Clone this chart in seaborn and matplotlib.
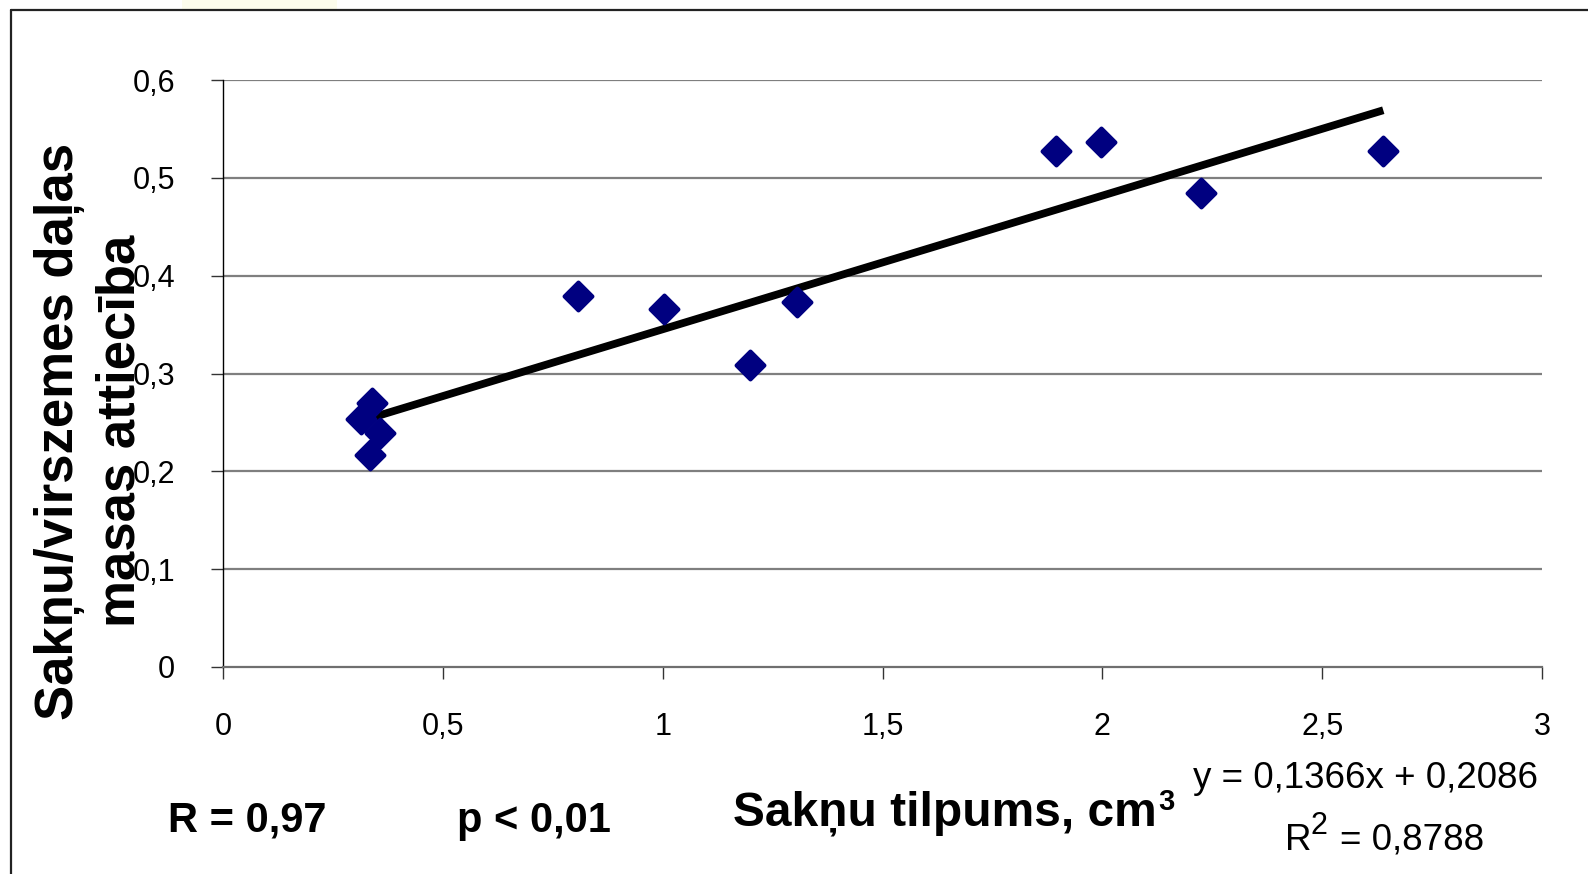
import matplotlib
matplotlib.use("Agg")
import matplotlib.pyplot as plt
import seaborn as sns
import pandas as pd
import numpy as np
from matplotlib.lines import Line2D
from matplotlib.patches import Rectangle

# ---- data ----
root_volume = [0.313, 0.340, 0.356, 0.334, 0.808, 1.004, 1.199, 1.305, 1.894, 1.998, 2.224, 2.639]
ratio       = [0.253, 0.270, 0.239, 0.217, 0.379, 0.366, 0.309, 0.373, 0.527, 0.537, 0.484, 0.527]
trend_slope = 0.1366
trend_intercept = 0.2086
r_squared = "0,8788"
x_ticks = [0, 0.5, 1, 1.5, 2, 2.5, 3]
x_tick_labels = ["0", "0,5", "1", "1,5", "2", "2,5", "3"]
y_ticks = [0, 0.1, 0.2, 0.3, 0.4, 0.5, 0.6]
y_tick_labels = ["0", "0,1", "0,2", "0,3", "0,4", "0,5", "0,6"]

sns.set_theme(style="white")
plt.rcParams['font.family'] = ['Liberation Sans', 'DejaVu Sans']
plt.rcParams['text.color'] = 'black'
plt.rcParams['axes.labelcolor'] = 'black'
plt.rcParams['xtick.color'] = 'black'
plt.rcParams['ytick.color'] = 'black'

W, H = 1588, 874
fig = plt.figure(figsize=(W / 100, H / 100), dpi=100)
fig.patch.set_facecolor("white")

def fx(px):
    return px / W

def fy(py):
    return 1 - py / H

# faint background watermark strip at the top
fig.add_artist(Rectangle((fx(182), fy(10)), fx(337) - fx(182), fy(0) - fy(10),
                         transform=fig.transFigure, color="#fcfcec", linewidth=0, zorder=0))

ax = fig.add_axes([fx(223), fy(667), fx(1542) - fx(223), fy(80) - fy(667)])
ax.set_facecolor("white")

df = pd.DataFrame({"x": root_volume, "y": ratio})

# trend line
tx = np.array([min(root_volume), max(root_volume)])
trend = pd.DataFrame({"x": tx, "y": trend_slope * tx + trend_intercept})
sns.lineplot(data=trend, x="x", y="y", ax=ax, color="black", linewidth=5.6,
             solid_capstyle="butt", zorder=3)

# points
sns.scatterplot(data=df, x="x", y="y", ax=ax, marker="D", s=200,
                color="#000080", edgecolor="#000080", linewidth=3, zorder=4)
for coll in ax.collections:
    try:
        coll.set_joinstyle("round")
    except Exception:
        pass

ax.set_xlim(0, 3)
ax.set_ylim(0, 0.6)
ax.set_xticks(x_ticks)
ax.set_xticklabels(x_tick_labels)
ax.set_yticks(y_ticks)
ax.set_yticklabels(y_tick_labels)
ax.set_xlabel("")
ax.set_ylabel("")

for yv in y_ticks[1:]:
    ax.axhline(yv, color="#7f7f7f", linewidth=1.6, zorder=1)

for s in ["top", "right"]:
    ax.spines[s].set_visible(False)
ax.spines["left"].set_color("black")
ax.spines["left"].set_linewidth(1.0)
ax.spines["bottom"].set_color("#6f6f6f")
ax.spines["bottom"].set_linewidth(1.6)

ax.tick_params(axis="both", which="major", direction="out", length=8.6, width=1.0,
               color="#333333", labelsize=22, labelcolor="black", left=True, bottom=True)
ax.tick_params(axis="y", pad=26)
ax.tick_params(axis="x", pad=24)

# y label (two lines)
fig.text(fx(90), fy(431), "Sakņu/virszemes daļas\nmasas attiecība", rotation=90,
         ha="center", va="center", fontsize=38, fontweight="bold", linespacing=1.27,
         multialignment="center", color="black")

# x label
fig.text(fx(1157), fy(826), "Sakņu tilpums, cm", ha="right", va="baseline",
         fontsize=34.5, fontweight="bold", color="black")
fig.text(fx(1158), fy(810), "3", ha="left", va="baseline",
         fontsize=21, fontweight="bold", color="black")

fig.text(fx(168), fy(832), "R = 0,97", ha="left", va="baseline", fontsize=30,
         fontweight="bold", color="black")
fig.text(fx(457), fy(832), "p < 0,01", ha="left", va="baseline", fontsize=30,
         fontweight="bold", color="black")

fig.text(fx(1538), fy(788), "y = 0,1366x + 0,2086", ha="right", va="baseline",
         fontsize=26.5, color="black")
fig.text(fx(1285), fy(850), "R", ha="left", va="baseline", fontsize=26.5, color="black")
fig.text(fx(1311), fy(834), "2", ha="left", va="baseline", fontsize=22, color="black")
fig.text(fx(1340), fy(850), "= " + r_squared, ha="left", va="baseline", fontsize=26.5,
         color="black")

# outer frame (left and top edges visible)
fig.add_artist(Line2D([fx(11), fx(11)], [fy(10), 0], color="#222222", linewidth=1.6))
fig.add_artist(Line2D([fx(11), 1], [fy(10), fy(10)], color="#222222", linewidth=1.6))

fig.savefig("out.png", dpi=100, facecolor="white")
